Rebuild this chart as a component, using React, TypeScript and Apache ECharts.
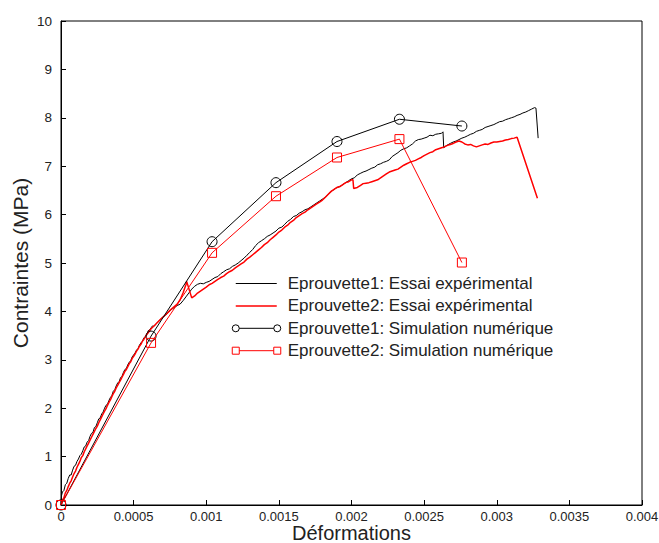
import React, { useEffect, useRef } from "react";
import * as echarts from "echarts";

const seriesNames = [
  "Eprouvette1: Essai expérimental",
  "Eprouvette2: Essai expérimental",
  "Eprouvette1: Simulation numérique",
  "Eprouvette2: Simulation numérique",
];

const xAxisName = "Déformations";
const yAxisName = "Contraintes (MPa)";

// Experimental curve, specimen 1 [strain, stress]
const essai1: [number, number][] = [
  [0, 0], [0.000004, 0.2], [0.00001, 0.27], [0.00002, 0.3], [0.00003, 0.42], [0.00004, 0.45],
  [0.00005, 0.55], [0.00006, 0.62], [0.00007, 0.62], [0.00008, 0.72], [0.00009, 0.8], [0.0001, 0.82],
  [0.00011, 0.9], [0.00012, 0.95], [0.00013, 1.02], [0.00014, 1.05], [0.00015, 1.12], [0.00016, 1.2],
  [0.00017, 1.22], [0.00018, 1.3], [0.00019, 1.33], [0.0002, 1.42], [0.00021, 1.48], [0.00022, 1.5],
  [0.00023, 1.6], [0.00024, 1.62], [0.00025, 1.7], [0.00026, 1.78], [0.00027, 1.8], [0.00028, 1.88],
  [0.00029, 1.92], [0.0003, 2.0], [0.00031, 2.06], [0.00032, 2.08], [0.00033, 2.16], [0.00034, 2.22],
  [0.00035, 2.26], [0.00036, 2.35], [0.00037, 2.38], [0.00038, 2.46], [0.00039, 2.52], [0.0004, 2.55],
  [0.00041, 2.63], [0.00042, 2.66], [0.00043, 2.74], [0.00044, 2.8], [0.00045, 2.82], [0.00046, 2.9],
  [0.00047, 2.95], [0.00048, 2.98], [0.00049, 3.06], [0.0005, 3.1], [0.00051, 3.14], [0.00052, 3.2],
  [0.00053, 3.23], [0.00054, 3.3], [0.00055, 3.35], [0.00056, 3.38], [0.00057, 3.45], [0.00058, 3.48],
  [0.00059, 3.52], [0.0006, 3.6], [0.00061, 3.62], [0.00062, 3.66], [0.00063, 3.7], [0.00064, 3.69],
  [0.00066, 3.76], [0.00068, 3.82], [0.0007, 3.88], [0.00072, 3.92], [0.00074, 3.98], [0.00076, 4.04],
  [0.00078, 4.08], [0.0008, 4.12], [0.00082, 4.15], [0.00084, 4.22], [0.00086, 4.3], [0.00088, 4.38],
  [0.0009, 4.46], [0.00092, 4.52], [0.00094, 4.56], [0.00096, 4.58], [0.00098, 4.57], [0.001, 4.6],
  [0.00102, 4.62], [0.00104, 4.66], [0.00106, 4.7], [0.00108, 4.72], [0.0011, 4.78], [0.00112, 4.82],
  [0.00114, 4.86], [0.00116, 4.88], [0.00118, 4.93], [0.0012, 4.96], [0.00122, 5.0], [0.00124, 5.05],
  [0.00126, 5.1], [0.00128, 5.16], [0.0013, 5.22], [0.00132, 5.28], [0.00134, 5.36], [0.00136, 5.42],
  [0.00138, 5.46], [0.0014, 5.5], [0.00142, 5.55], [0.00144, 5.58], [0.00146, 5.62], [0.00148, 5.66],
  [0.0015, 5.72], [0.00152, 5.74], [0.00154, 5.8], [0.00156, 5.86], [0.00158, 5.9], [0.0016, 5.96],
  [0.00162, 5.98], [0.00164, 6.03], [0.00166, 6.06], [0.00168, 6.1], [0.0017, 6.12], [0.00172, 6.16],
  [0.00174, 6.2], [0.00176, 6.24], [0.00178, 6.28], [0.0018, 6.32], [0.00182, 6.36], [0.00184, 6.42],
  [0.00186, 6.48], [0.00188, 6.52], [0.0019, 6.56], [0.00192, 6.58], [0.00194, 6.62], [0.00196, 6.66],
  [0.00198, 6.7], [0.002, 6.74], [0.00202, 6.76], [0.00204, 6.82], [0.00206, 6.85], [0.00208, 6.88],
  [0.0021, 6.9], [0.00212, 6.93], [0.00214, 6.96], [0.00216, 6.98], [0.00218, 7.03], [0.0022, 7.05],
  [0.00222, 7.08], [0.00224, 7.1], [0.00226, 7.13], [0.00228, 7.2], [0.0023, 7.24], [0.00232, 7.28],
  [0.00234, 7.33], [0.00236, 7.36], [0.00238, 7.38], [0.0024, 7.42], [0.00242, 7.46], [0.00244, 7.52],
  [0.00246, 7.55], [0.00248, 7.56], [0.0025, 7.58], [0.00252, 7.6], [0.00254, 7.64], [0.00256, 7.63],
  [0.00258, 7.66], [0.0026, 7.67], [0.00262, 7.68], [0.00263, 7.71], [0.002635, 7.38], [0.00265, 7.42],
  [0.00268, 7.47], [0.0027, 7.5], [0.00272, 7.52], [0.00274, 7.55], [0.00276, 7.58], [0.00278, 7.6],
  [0.0028, 7.63], [0.00282, 7.66], [0.00284, 7.68], [0.00286, 7.72], [0.00288, 7.74], [0.0029, 7.76],
  [0.00292, 7.8], [0.00294, 7.82], [0.00296, 7.84], [0.00298, 7.86], [0.003, 7.89], [0.00302, 7.92],
  [0.00304, 7.93], [0.00306, 7.96], [0.00308, 7.98], [0.0031, 8.0], [0.00312, 8.02], [0.00314, 8.05],
  [0.00316, 8.07], [0.00318, 8.1], [0.0032, 8.12], [0.00322, 8.15], [0.00324, 8.18], [0.00326, 8.21],
  [0.00327, 8.2], [0.003285, 7.58],
];

// Experimental curve, specimen 2 [strain, stress]
const essai2: [number, number][] = [
  [0, 0], [0.00001, 0.1], [0.00002, 0.15], [0.00003, 0.25], [0.00004, 0.3], [0.00005, 0.38],
  [0.00006, 0.45], [0.00007, 0.5], [0.00008, 0.58], [0.00009, 0.65], [0.0001, 0.7], [0.00011, 0.78],
  [0.00012, 0.84], [0.00013, 0.9], [0.00014, 0.98], [0.00015, 1.02], [0.00016, 1.1], [0.00017, 1.16],
  [0.00018, 1.22], [0.00019, 1.28], [0.0002, 1.34], [0.00021, 1.4], [0.00022, 1.46], [0.00023, 1.52],
  [0.00024, 1.58], [0.00025, 1.63], [0.00026, 1.7], [0.00027, 1.76], [0.00028, 1.82], [0.00029, 1.88],
  [0.0003, 1.94], [0.00031, 1.99], [0.00032, 2.06], [0.00033, 2.12], [0.00034, 2.17], [0.00035, 2.24],
  [0.00036, 2.3], [0.00037, 2.35], [0.00038, 2.42], [0.00039, 2.47], [0.0004, 2.53], [0.00041, 2.58],
  [0.00042, 2.64], [0.00043, 2.7], [0.00044, 2.76], [0.00045, 2.8], [0.00046, 2.86], [0.00047, 2.92],
  [0.00048, 2.96], [0.00049, 3.03], [0.0005, 3.07], [0.00051, 3.12], [0.00052, 3.18], [0.00053, 3.22],
  [0.00054, 3.28], [0.00055, 3.32], [0.00056, 3.38], [0.00057, 3.42], [0.00058, 3.47], [0.00059, 3.52],
  [0.0006, 3.56], [0.00062, 3.64], [0.00064, 3.7], [0.00066, 3.76], [0.00068, 3.82], [0.0007, 3.88],
  [0.00072, 3.93], [0.00074, 3.99], [0.00076, 4.05], [0.00078, 4.1], [0.0008, 4.15], [0.00082, 4.24],
  [0.00084, 4.38], [0.00086, 4.55], [0.000865, 4.62], [0.0009, 4.28], [0.00092, 4.32], [0.00094, 4.38],
  [0.00096, 4.42], [0.00098, 4.46], [0.001, 4.5], [0.00102, 4.55], [0.00104, 4.58], [0.00106, 4.62],
  [0.00108, 4.66], [0.0011, 4.7], [0.00112, 4.73], [0.00114, 4.78], [0.00116, 4.82], [0.00118, 4.85],
  [0.0012, 4.9], [0.00122, 4.94], [0.00124, 4.98], [0.00126, 5.02], [0.00128, 5.08], [0.0013, 5.12],
  [0.00132, 5.17], [0.00134, 5.22], [0.00136, 5.27], [0.00138, 5.32], [0.0014, 5.38], [0.00142, 5.42],
  [0.00144, 5.48], [0.00146, 5.53], [0.00148, 5.58], [0.0015, 5.64], [0.00152, 5.68], [0.00154, 5.74],
  [0.00156, 5.78], [0.00158, 5.84], [0.0016, 5.88], [0.00162, 5.94], [0.00164, 5.98], [0.00166, 6.02],
  [0.00168, 6.05], [0.0017, 6.1], [0.00172, 6.14], [0.00174, 6.18], [0.00176, 6.22], [0.00178, 6.26],
  [0.0018, 6.3], [0.00182, 6.36], [0.00184, 6.42], [0.00186, 6.48], [0.00188, 6.52], [0.0019, 6.56],
  [0.00192, 6.58], [0.00194, 6.62], [0.00196, 6.66], [0.00198, 6.68], [0.002, 6.72], [0.00201, 6.72],
  [0.002015, 6.54], [0.00204, 6.56], [0.00206, 6.6], [0.00208, 6.64], [0.0021, 6.65], [0.00212, 6.66],
  [0.00214, 6.68], [0.00216, 6.7], [0.00218, 6.72], [0.0022, 6.76], [0.00222, 6.8], [0.00224, 6.84],
  [0.00226, 6.88], [0.00228, 6.9], [0.0023, 6.92], [0.00232, 6.94], [0.00234, 6.98], [0.00236, 7.02],
  [0.00238, 7.05], [0.0024, 7.08], [0.00242, 7.1], [0.00244, 7.12], [0.00246, 7.15], [0.00248, 7.18],
  [0.0025, 7.22], [0.00252, 7.25], [0.00254, 7.28], [0.00256, 7.3], [0.00258, 7.34], [0.0026, 7.36],
  [0.00262, 7.38], [0.00264, 7.4], [0.00266, 7.43], [0.00268, 7.45], [0.0027, 7.47], [0.00272, 7.5],
  [0.00274, 7.52], [0.00276, 7.5], [0.00278, 7.46], [0.0028, 7.44], [0.00282, 7.45], [0.00284, 7.42],
  [0.00286, 7.4], [0.00288, 7.42], [0.0029, 7.44], [0.00292, 7.46], [0.00294, 7.45], [0.00296, 7.48],
  [0.00298, 7.5], [0.003, 7.5], [0.00302, 7.51], [0.00304, 7.52], [0.00306, 7.54], [0.00308, 7.55],
  [0.0031, 7.57], [0.00312, 7.58], [0.00314, 7.6], [0.00328, 6.34],
];

// Numerical simulations
const simStrain = [0, 0.00062, 0.00104, 0.00148, 0.0019, 0.00233, 0.00276];
const simStress1 = [0, 3.49, 5.44, 6.66, 7.51, 7.97, 7.83];
const simStress2 = [0, 3.35, 5.21, 6.38, 7.18, 7.56, 5.01];

const FONT = "'Liberation Sans', Arial, Helvetica, sans-serif";

const lineIcon = "path://M0,0 M51,14 M4,7 L45,7";
const circleIcon =
  "path://M0,0 M51,14 M0.5,7 A3.5,3.5 0 1 1 7.5,7 A3.5,3.5 0 1 1 0.5,7 Z M7.5,7 L42,7 M42,7 A3.5,3.5 0 1 1 49,7 A3.5,3.5 0 1 1 42,7 Z";
const squareIcon =
  "path://M0,0 M51,14 M0.5,3.5 L7.5,3.5 L7.5,10.5 L0.5,10.5 Z M7.5,7 L42,7 M42,3.5 L49,3.5 L49,10.5 L42,10.5 Z";

export default function App() {
  const ref = useRef<HTMLDivElement>(null);
  useEffect(() => {
    if (!ref.current) return;
    const chart = echarts.init(ref.current, null, { renderer: "svg" });
    const fmt = (v: number) => (v === 0 ? "0" : String(parseFloat(v.toFixed(4))));
    chart.setOption({
      animation: false,
      backgroundColor: "#fff",
      grid: {
        left: 61,
        right: 17,
        top: 21,
        bottom: 38,
        containLabel: false,
        outerBoundsMode: "none",
        show: true,
        borderColor: "#000",
        borderWidth: 1,
        backgroundColor: "transparent",
      },
      legend: {
        orient: "vertical",
        left: 231,
        top: 275,
        padding: 0,
        itemWidth: 51,
        itemHeight: 14,
        itemGap: 5.4,
        selectedMode: false,
        textStyle: { fontFamily: FONT, fontSize: 17, color: "#222", lineHeight: 17 },
        data: [
          { name: seriesNames[0], icon: lineIcon, itemStyle: { color: "transparent", borderColor: "#000", borderWidth: 1 } },
          { name: seriesNames[1], icon: lineIcon, itemStyle: { color: "transparent", borderColor: "#ff0000", borderWidth: 1.5 } },
          { name: seriesNames[2], icon: circleIcon, itemStyle: { color: "transparent", borderColor: "#000", borderWidth: 1 } },
          { name: seriesNames[3], icon: squareIcon, itemStyle: { color: "transparent", borderColor: "#ff0000", borderWidth: 1 } },
        ],
      },
      xAxis: {
        type: "value",
        min: 0,
        max: 0.004,
        interval: 0.0005,
        name: xAxisName,
        nameLocation: "middle",
        nameGap: 18,
        nameMoveOverlap: false,
        nameTextStyle: { fontFamily: FONT, fontSize: 20, lineHeight: 20, color: "#222" },
        axisLine: { show: true, lineStyle: { color: "#000", width: 1 } },
        axisTick: { show: true, inside: true, length: 5, lineStyle: { color: "#000" } },
        axisLabel: { margin: 5, fontFamily: FONT, fontSize: 13, lineHeight: 13, color: "#222", formatter: fmt },
        splitLine: { show: false },
      },
      yAxis: {
        type: "value",
        min: 0,
        max: 10,
        interval: 1,
        name: yAxisName,
        nameLocation: "middle",
        nameGap: 30,
        nameMoveOverlap: false,
        nameTextStyle: { fontFamily: FONT, fontSize: 21, color: "#222" },
        axisLine: { show: true, lineStyle: { color: "#000", width: 1 } },
        axisTick: { show: true, inside: true, length: 5, lineStyle: { color: "#000" } },
        axisLabel: { margin: 9, fontFamily: FONT, fontSize: 13.5, color: "#222" },
        splitLine: { show: false },
      },
      series: [
        {
          name: seriesNames[0],
          type: "line",
          data: essai1,
          showSymbol: false,
          symbol: "none",
          lineStyle: { color: "#000", width: 1 },
          itemStyle: { color: "#000" },
          z: 2,
        },
        {
          name: seriesNames[1],
          type: "line",
          data: essai2,
          showSymbol: false,
          symbol: "none",
          lineStyle: { color: "#ff0000", width: 1.5 },
          itemStyle: { color: "#ff0000" },
          z: 3,
        },
        {
          name: seriesNames[2],
          type: "line",
          data: simStrain.map((x, i) => [x, simStress1[i]]),
          symbol: "circle",
          symbolSize: 10,
          lineStyle: { color: "#000", width: 1 },
          itemStyle: { color: "transparent", borderColor: "#000", borderWidth: 1 },
          z: 4,
        },
        {
          name: seriesNames[3],
          type: "line",
          data: simStrain.map((x, i) => [x, simStress2[i]]),
          symbol: "rect",
          symbolSize: 9,
          lineStyle: { color: "#ff0000", width: 1 },
          itemStyle: { color: "transparent", borderColor: "#ff0000", borderWidth: 1 },
          z: 5,
        },
      ],
    });
    return () => chart.dispose();
  }, []);
  return (
    <div
      ref={ref}
      style={{ position: "fixed", left: 0, top: 0, width: 659, height: 543, background: "#fff" }}
    />
  );
}
